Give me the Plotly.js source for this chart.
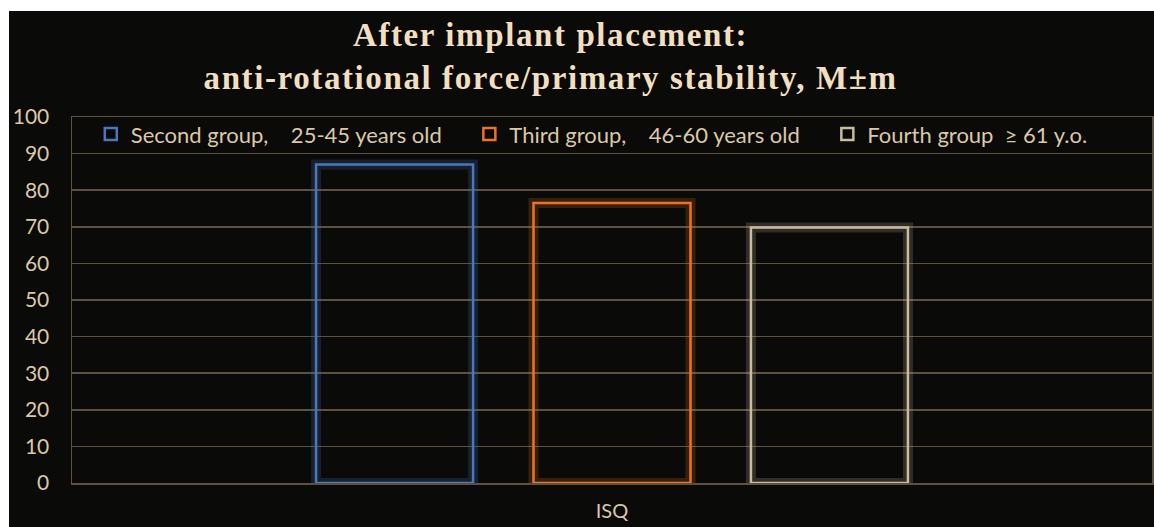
<!DOCTYPE html>
<html><head><meta charset="utf-8">
<script src="https://cdn.plot.ly/plotly-3.0.1.min.js"></script>
<style>
html,body{margin:0;padding:0;background:#ffffff;}
#chart{position:absolute;left:9px;top:11px;width:1145px;height:516px;}
</style></head>
<body><div id="chart"></div>
<script>
const categories = ["ISQ"];
const seriesNames = ["Second group,\u00a0\u00a0\u00a0\u00a025-45 years old", "Third group,\u00a0\u00a0\u00a0\u00a046-60 years old", "Fourth group\u00a0\u00a0\u2265 61 y.o."];
const secondGroup = [87];
const thirdGroup = [76.5];
const fourthGroup = [69.8];
const yTicks = [0,10,20,30,40,50,60,70,80,90,100];

const pads = ["\u00a0\u00a0\u00a0\u00a0", "\u00a0\u00a0\u00a0\u00a0", ""];
const colors = ["#4a78bd", "#ec7428", "#cbbb9e"];
const glowColors = ["rgba(74,120,189,0.2)", "rgba(236,116,40,0.2)", "rgba(203,187,158,0.2)"];
const groups = ["g1","g2","g3"];
const values = [secondGroup, thirdGroup, fourthGroup];
const glow = values.map((v,i)=>({
  type:"bar", x:categories, y:v, name:seriesNames[i], offsetgroup:groups[i], showlegend:false,
  marker:{color:"rgba(0,0,0,0)", line:{color:glowColors[i], width:10}}, hoverinfo:"none"
}));
const main = values.map((v,i)=>({
  type:"bar", x:categories, y:v, name:seriesNames[i] + pads[i], offsetgroup:groups[i],
  marker:{color:"rgba(0,0,0,0)", line:{color:colors[i], width:2.5}}, hoverinfo:"none"
}));

const gridCol = "#5e513f";
const textCol = "#dcc8a6";
const layout = {
  width:1145, height:516,
  paper_bgcolor:"#0a0a08", plot_bgcolor:"#0a0a08",
  margin:{l:63, r:2, t:106, b:44},
  barmode:"group", bargap:0.396, bargroupgap:0.278,
  title:{text:"<b><span style='letter-spacing:1.6px'>After implant placement:</span><br><span style='letter-spacing:1.6px'>anti-rotational force/primary stability, M±m</span></b>",
    font:{family:"Liberation Serif, Times New Roman, serif", size:33, color:"#f2dfbf"},
    x:0.473, xanchor:"center", y:0.932, yanchor:"middle"},
  xaxis:{type:"category", range:[-0.5,0.5], showgrid:false, showline:true, mirror:true,
    linecolor:gridCol, linewidth:1.5, ticks:"", ticklabelstandoff:9,
    tickfont:{family:"Lato, Open Sans, sans-serif", size:20, color:textCol}},
  yaxis:{range:[0,100], tickvals:yTicks, showgrid:true, gridcolor:gridCol, gridwidth:1.5,
    showline:true, mirror:true, linecolor:gridCol, linewidth:1.5, zeroline:false, ticks:"",
    ticklabelstandoff:17,
    tickfont:{family:"Lato, Open Sans, sans-serif", size:21, color:textCol}},
  legend:{orientation:"h", x:0.0174, xanchor:"left", y:0.953, yanchor:"middle",
    bgcolor:"rgba(0,0,0,0)", itemwidth:30, traceorder:"normal",
    font:{family:"Lato, Open Sans, sans-serif", size:22, color:textCol}},
  showlegend:true
};
Plotly.newPlot("chart", glow.concat(main), layout, {displayModeBar:false, staticPlot:true});
</script></body></html>
